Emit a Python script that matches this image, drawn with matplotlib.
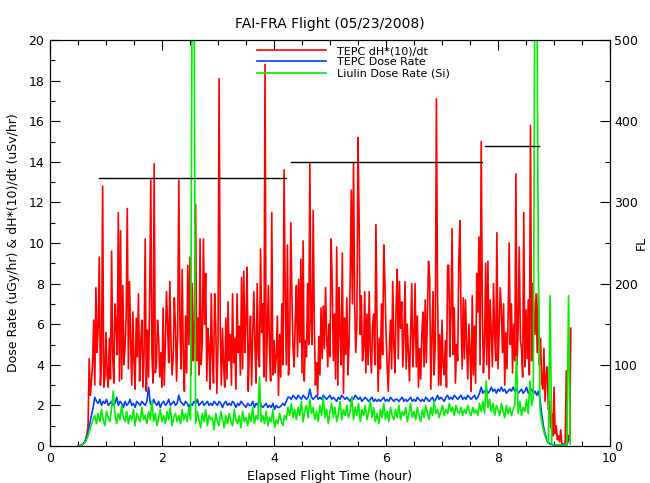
import numpy as np
import matplotlib
matplotlib.use("Agg")
import matplotlib.pyplot as plt
from matplotlib.ticker import MultipleLocator

# sample grids (hours)
t_start = 0.50
red_step = 0.02
dose_step = 0.03

# TEPC dH*(10)/dt (uSv/hr)
tepc_dh = [
    0.0, 0.01, 0.03, 0.05, 0.08, 0.12, 0.2, 0.35, 0.6, 1.0,
    4.3, 2.5, 3.2, 4.0, 6.2, 3.0, 7.8, 4.6, 5.8, 9.3,
    3.0, 4.2, 12.8, 2.9, 3.4, 5.6, 3.5, 2.9, 5.3, 3.3,
    9.6, 4.4, 3.1, 7.0, 6.0, 4.5, 11.5, 3.2, 10.6, 3.3,
    7.9, 4.0, 4.9, 6.4, 11.7, 3.8, 8.1, 5.2, 3.0, 6.6,
    4.1, 2.8, 6.3, 4.4, 7.5, 3.2, 5.1, 6.2, 2.9, 4.6,
    10.2, 2.7, 5.7, 3.4, 7.4, 13.1, 4.5, 3.1, 13.9, 3.6,
    4.0, 6.2, 5.3, 3.4, 4.6, 2.9, 6.8, 3.0, 5.0, 7.6,
    6.0, 4.1, 8.1, 5.1, 3.5, 4.4, 7.3, 5.9, 3.2, 5.5,
    13.1, 6.0, 3.8, 8.7, 4.5, 2.7, 6.4, 3.6, 8.9, 5.0,
    9.3, 3.5, 8.0, 4.2, 5.8, 11.9, 4.2, 6.3, 3.5, 10.2,
    4.0, 5.2, 10.2, 6.0, 8.5, 3.2, 5.8, 4.9, 2.8, 7.5,
    4.5, 3.1, 7.5, 5.9, 2.6, 5.0, 18.1, 5.7, 3.0, 5.8,
    4.0, 2.9, 6.3, 3.3, 7.1, 4.2, 5.5, 3.0, 7.5, 4.1,
    5.3, 2.8, 7.5, 4.6, 5.9, 3.5, 8.3, 3.8, 8.6, 4.6,
    6.2, 8.8, 2.7, 4.8, 6.4, 3.0, 5.5, 7.6, 5.0, 3.1,
    8.0, 4.5, 3.9, 9.7, 5.6, 7.0, 3.4, 18.8, 3.2, 5.5,
    7.9, 4.7, 3.2, 11.5, 3.5, 5.2, 3.6, 4.4, 6.4, 2.5,
    5.5, 3.4, 7.0, 4.0, 13.6, 7.3, 4.0, 9.9, 3.5, 5.0,
    11.0, 7.4, 4.8, 3.9, 6.2, 7.9, 4.4, 8.2, 5.1, 9.2,
    3.6, 10.1, 3.2, 5.2, 4.4, 8.0, 5.0, 13.9, 6.0, 5.0,
    11.6, 5.9, 3.0, 4.1, 2.5, 5.4, 3.5, 6.8, 4.3, 6.9,
    4.8, 7.8, 5.5, 3.9, 6.0, 4.4, 10.2, 8.0, 4.2, 6.5,
    3.3, 9.8, 3.0, 7.8, 5.5, 4.0, 9.5, 2.6, 6.3, 4.5,
    7.3, 3.5, 5.0, 8.2, 12.6, 7.0, 13.9, 7.0, 4.6, 6.0,
    15.2, 11.1, 5.5, 7.4, 4.2, 4.8, 7.6, 3.6, 6.5, 4.0,
    7.6, 4.8, 3.6, 5.9, 6.5, 4.0, 10.9, 6.0, 2.7, 5.3,
    3.8, 7.0, 4.5, 9.9, 8.1, 5.6, 4.0, 2.7, 4.8, 6.2,
    3.8, 8.1, 5.0, 3.6, 6.8, 8.7, 4.3, 8.1, 5.8, 7.1,
    3.9, 5.5, 8.1, 3.8, 6.0, 4.6, 3.2, 5.7, 8.0, 3.9,
    5.4, 8.0, 3.9, 6.4, 2.9, 4.8, 3.3, 5.5, 6.6, 3.9,
    7.2, 4.1, 6.5, 9.1, 8.2, 2.8, 5.2, 7.6, 3.5, 5.0,
    17.1, 7.6, 3.0, 5.5, 3.0, 6.2, 4.0, 3.5, 5.2, 2.9,
    8.9, 8.9, 4.4, 6.5, 10.7, 4.5, 6.8, 3.1, 5.0, 4.2,
    9.1, 11.1, 6.4, 3.8, 7.3, 4.3, 7.2, 5.0, 3.3, 6.0,
    4.6, 2.7, 7.4, 3.5, 5.9, 3.1, 8.5, 6.6, 10.3, 4.0,
    15.0, 6.8, 3.6, 5.0, 9.0, 4.0, 9.1, 3.3, 7.2, 5.5,
    3.9, 8.0, 5.5, 4.2, 10.5, 3.8, 5.9, 7.8, 6.7, 4.6,
    7.0, 3.0, 5.6, 3.8, 6.2, 10.0, 5.0, 7.0, 3.6, 6.0,
    4.2, 13.4, 4.0, 5.8, 9.8, 5.2, 4.8, 3.4, 11.5, 3.9,
    6.7, 4.3, 7.2, 3.5, 15.8, 4.2, 8.0, 6.8, 5.5, 7.5,
    4.6, 7.5, 4.0, 5.3, 3.1, 2.8, 4.8, 2.2, 3.5, 3.9,
    1.8, 2.2, 0.9, 1.6, 0.5, 2.9, 0.6, 1.0, 0.3, 0.5,
    0.2, 0.8, 0.1, 0.1, 0.05, 0.2, 3.7, 0.2, 0.5, 0.3,
    5.8,
]

# TEPC dose rate (uGy/hr)
tepc_dose = [
    0.0, 0.02, 0.05, 0.1, 0.2, 0.4, 0.7, 1.1, 1.5, 1.9,
    2.4, 2.2, 2.1, 2.3, 2.0, 2.2, 2.1, 2.3, 2.0, 2.1,
    2.2, 2.0, 2.1, 2.4, 2.0, 2.2, 2.1, 1.9, 2.2, 2.0,
    2.1, 2.3, 2.0, 2.1, 1.9, 2.2, 2.1, 2.0, 2.2, 2.1,
    2.0, 2.2, 2.9, 2.1, 2.0, 2.3, 2.1, 2.0, 2.2, 1.9,
    2.1, 2.2, 2.0, 2.1, 2.3, 2.0, 2.1, 2.2, 2.0, 2.1,
    2.5, 2.2, 2.1, 2.0, 2.2, 2.1, 1.9, 2.1, 2.0, 2.2,
    2.1, 2.3, 2.0, 2.1, 2.2, 2.0, 2.1, 2.2, 2.0, 2.1,
    2.0, 2.2, 2.1, 2.0, 2.2, 2.1, 1.9, 2.1, 2.2, 2.0,
    2.1, 2.0, 2.2, 2.1, 1.9, 2.1, 2.0, 2.2, 2.1, 2.0,
    1.9, 2.1, 2.0, 2.0, 2.2, 1.9, 2.1, 2.0, 2.3, 2.0,
    1.9, 2.0, 2.1, 1.9, 2.0, 1.9, 2.1, 1.8, 2.0, 1.9,
    1.9, 2.0, 2.1, 2.0, 2.2, 2.4, 2.4, 2.3, 2.5, 2.4,
    2.3, 2.5, 2.4, 2.3, 2.5, 2.4, 2.3, 2.4, 2.8, 2.4,
    2.3, 2.4, 2.5, 2.3, 2.4, 2.3, 2.5, 2.4, 2.3, 2.4,
    2.5, 2.3, 2.4, 2.3, 2.2, 2.4, 2.3, 2.5, 2.4, 2.3,
    2.4, 2.3, 2.2, 2.4, 2.3, 2.5, 2.4, 2.3, 2.4, 2.2,
    2.3, 2.4, 2.3, 2.2, 2.3, 2.4, 2.2, 2.3, 2.2, 2.3,
    2.2, 2.3, 2.4, 2.2, 2.3, 2.2, 2.4, 2.3, 2.2, 2.3,
    2.3, 2.2, 2.3, 2.4, 2.2, 2.3, 2.2, 2.3, 2.4, 2.2,
    2.3, 2.2, 2.4, 2.3, 2.2, 2.3, 2.2, 2.4, 2.3, 2.2,
    2.3, 2.4, 2.2, 2.3, 2.5, 2.3, 2.4, 2.3, 2.2, 2.4,
    2.5, 2.3, 2.4, 2.3, 2.5, 2.4, 2.3, 2.4, 2.5, 2.3,
    2.4, 2.3, 2.5, 2.4, 2.3, 2.4, 2.5, 2.3, 2.4, 2.6,
    2.9, 2.6, 2.7, 2.8, 2.6, 2.7, 2.9, 2.7, 2.8, 2.6,
    2.8, 2.7, 2.9, 2.7, 2.8, 2.6, 2.7, 2.8, 2.7, 2.9,
    2.7, 2.8, 2.6, 2.7, 2.8, 2.6, 2.7, 2.9, 2.6, 2.7,
    2.8, 2.6, 2.7, 2.5, 2.7, 2.3, 1.6, 1.0, 0.6, 0.3,
    0.15, 0.1, 0.08, 0.05, 0.05, 0.05, 0.04, 0.05, 0.04, 0.05,
    0.05, 0.05, 0.3,
]

# Liulin dose rate (Si) (uGy/hr)
liulin = [
    0.0, 0.02, 0.04, 0.08, 0.15, 0.3, 0.5, 0.8, 1.05, 1.3,
    1.5, 1.1, 1.6, 1.2, 1.8, 1.3, 1.0, 1.7, 1.4, 1.2,
    1.9, 2.7, 1.5, 1.1, 1.6, 1.3, 2.0, 1.4, 1.2, 1.7,
    1.1, 1.5, 1.3, 1.8, 1.0, 1.6, 1.4, 1.2, 1.9, 1.3,
    1.5, 1.1, 1.7, 1.3, 2.2, 1.2, 1.6, 1.0, 1.4, 1.8,
    1.2, 1.5, 1.1, 1.7, 1.3, 1.9, 1.0, 1.4, 1.6, 1.2,
    1.5, 1.1, 1.8, 1.3, 1.6, 1.2, 1.9, 1.3, 25.0, 25.0,
    1.1, 1.7, 1.3, 0.9, 1.6, 1.2, 1.8, 1.0, 1.5, 1.3,
    1.4, 0.8, 1.6, 1.2, 1.0, 1.7, 1.3, 0.9, 1.5, 1.1,
    1.6, 1.2, 1.0, 1.8, 1.3, 1.1, 1.5, 0.9, 1.7, 1.2,
    1.4, 1.0, 1.6, 1.2, 1.9, 1.1, 1.5, 1.3, 3.4, 1.2,
    1.5, 1.1, 1.7, 1.0, 1.4, 1.2, 1.8, 0.9, 1.3, 1.1,
    1.6, 1.2, 1.0, 1.5, 1.3, 1.9, 1.5, 2.1, 1.4, 1.8,
    1.3, 1.9, 1.5, 2.2, 1.2, 1.7, 2.0, 1.4, 2.3, 1.6,
    1.9, 1.3, 1.7, 1.2, 2.0, 1.5, 2.4, 1.4, 1.8, 1.1,
    1.7, 2.1, 1.4, 1.9, 1.2, 1.6, 2.2, 1.3, 1.8, 1.5,
    2.0, 1.4, 1.7, 2.4, 1.3, 1.9, 1.5, 2.1, 1.2, 1.8,
    1.5, 2.0, 1.3, 1.7, 2.2, 1.4, 1.9, 1.2, 1.6, 1.1,
    1.8, 1.4, 2.1, 1.3, 1.7, 1.2, 1.9, 1.5, 1.3, 1.8,
    1.4, 2.0, 1.3, 1.7, 1.5, 1.9, 1.2, 1.6, 2.1, 1.4,
    1.7, 1.3, 1.9, 1.5, 1.2, 1.8, 1.4, 2.0, 1.6, 1.3,
    1.9, 1.5, 2.2, 1.6, 1.8, 1.4, 1.7, 2.0, 1.5, 1.8,
    1.6, 2.1, 1.7, 1.9, 1.5, 2.0, 1.7, 1.6, 1.9, 1.5,
    1.8, 1.6, 2.0, 1.7, 1.5, 1.9, 1.6, 1.8, 1.5, 2.1,
    1.7, 2.2, 1.6, 3.2, 1.9, 2.3, 1.7, 2.1, 1.5, 2.0,
    1.8, 1.5, 2.1, 1.7, 1.4, 2.0, 1.6, 1.9, 1.5, 1.8,
    2.0, 4.4, 1.6, 2.2, 1.5, 1.9, 1.7, 2.3, 1.6, 3.2,
    2.0, 2.4, 25.0, 25.0, 8.9, 1.8, 1.2, 0.8, 0.5, 0.3,
    0.15, 7.4, 0.1, 0.05, 0.05, 0.05, 0.05, 0.05, 0.05, 0.05,
    0.05, 0.05, 7.4, 0.1,
]

# Flight level segments
fl_start = [0.88, 4.31, 7.76]
fl_end = [4.22, 7.71, 8.73]
fl_level = [330, 350, 370]

legend_labels = ["TEPC dH*(10)/dt", "TEPC Dose Rate", "Liulin Dose Rate (Si)"]


def times(n, step):
    return t_start + step * np.arange(n)


plt.rcParams['font.family'] = ['DejaVu Sans']
fig = plt.figure(figsize=(6.5, 4.83), dpi=100)
ax = fig.add_axes([50 / 650, 37 / 483, 560 / 650, 406 / 483])
ax2 = ax.twinx()

l1, = ax.plot(times(len(tepc_dh), red_step), tepc_dh, color='#ff0000', lw=1.2)
l2, = ax.plot(times(len(tepc_dose), dose_step), tepc_dose, color='#0040ff', lw=1.2)
l3, = ax.plot(times(len(liulin), dose_step), liulin, color='#00ee00', lw=1.2)

for s, e, f in zip(fl_start, fl_end, fl_level):
    ax2.plot([s, e], [f, f], color='black', lw=1.0)

ax.set_xlim(0, 10)
ax.set_ylim(0, 20)
ax2.set_ylim(0, 500)

ax.xaxis.set_major_locator(MultipleLocator(2))
ax.xaxis.set_minor_locator(MultipleLocator(0.5))
ax.yaxis.set_major_locator(MultipleLocator(2))
ax.yaxis.set_minor_locator(MultipleLocator(1))
ax2.yaxis.set_major_locator(MultipleLocator(100))
ax2.yaxis.set_minor_locator(MultipleLocator(50))

ax.tick_params(which='both', direction='in', top=True, right=False, labelsize=9, width=0.8)
ax.tick_params(which='major', length=7, pad=4)
ax.tick_params(which='minor', length=3.5)
ax2.tick_params(which='both', direction='in', labelsize=9, width=0.8)
ax2.tick_params(which='major', length=7, pad=3)
ax2.tick_params(which='minor', length=3.5)

for a in (ax, ax2):
    for sp in a.spines.values():
        sp.set_linewidth(0.8)

ax.set_title("FAI-FRA Flight (05/23/2008)", fontsize=10, pad=9)
ax.set_xlabel("Elapsed Flight Time (hour)", fontsize=9, labelpad=4)
ax.set_ylabel("Dose Rate (uGy/hr) & dH*(10)/dt (uSv/hr)", fontsize=9, labelpad=6)
ax2.set_ylabel("FL", fontsize=9)
ax2.yaxis.set_label_coords(1.044, 0.5)

ax.legend([l1, l2, l3], legend_labels, loc='upper left',
          bbox_to_anchor=(255 / 650, 1 - 44 / 483), bbox_transform=fig.transFigure,
          frameon=False, fontsize=8, handlelength=6.2, handletextpad=1.0,
          labelspacing=0.1, borderpad=0.2, borderaxespad=0)

fig.savefig("out.png", dpi=100)
